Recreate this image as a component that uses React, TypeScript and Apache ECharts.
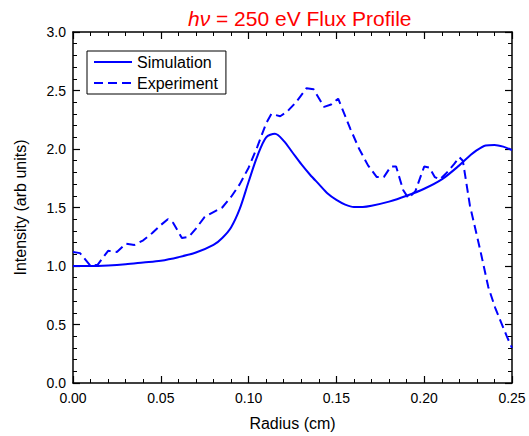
import React, { useEffect, useRef } from "react";
import * as echarts from "echarts";

const simX = [0, 0.01, 0.02, 0.03, 0.04, 0.05, 0.06, 0.07, 0.08, 0.085, 0.09, 0.095, 0.1, 0.105, 0.11, 0.115, 0.12, 0.125, 0.13, 0.135, 0.14, 0.145, 0.15, 0.155, 0.16, 0.165, 0.17, 0.18, 0.19, 0.2, 0.21, 0.22, 0.225, 0.23, 0.235, 0.24, 0.245, 0.25];
const simY = [1.0, 1.0, 1.005, 1.015, 1.03, 1.045, 1.075, 1.115, 1.18, 1.24, 1.33, 1.49, 1.72, 1.94, 2.10, 2.13, 2.07, 1.97, 1.87, 1.78, 1.70, 1.62, 1.565, 1.525, 1.505, 1.505, 1.515, 1.55, 1.60, 1.66, 1.74, 1.86, 1.93, 1.99, 2.03, 2.035, 2.02, 1.99];

const expX = [0, 0.004, 0.01, 0.014, 0.02, 0.025, 0.03, 0.035, 0.04, 0.045, 0.05, 0.054, 0.057, 0.062, 0.066, 0.07, 0.075, 0.08, 0.085, 0.09, 0.095, 0.1, 0.105, 0.11, 0.113, 0.118, 0.122, 0.127, 0.133, 0.137, 0.143, 0.147, 0.151, 0.158, 0.163, 0.168, 0.173, 0.177, 0.181, 0.184, 0.188, 0.191, 0.195, 0.2, 0.203, 0.206, 0.209, 0.213, 0.217, 0.22, 0.222, 0.226, 0.232, 0.2365, 0.2405, 0.2432, 0.247, 0.25];
const expY = [1.12, 1.11, 1.0, 1.01, 1.13, 1.12, 1.19, 1.18, 1.22, 1.28, 1.35, 1.40, 1.37, 1.24, 1.25, 1.32, 1.42, 1.46, 1.50, 1.59, 1.70, 1.84, 2.02, 2.22, 2.30, 2.28, 2.32, 2.40, 2.52, 2.51, 2.36, 2.38, 2.43, 2.17, 2.0, 1.86, 1.76, 1.76, 1.85, 1.85, 1.65, 1.58, 1.64, 1.85, 1.84, 1.76, 1.74, 1.80, 1.87, 1.93, 1.90, 1.52, 1.13, 0.82, 0.64, 0.54, 0.40, 0.30];

const seriesNames = ["Simulation", "Experiment"];
const titleText = "= 250 eV Flux Profile";
const xName = "Radius (cm)";
const yName = "Intensity (arb units)";

const FONT = "Arial, 'Liberation Sans', sans-serif";
const BLUE = "#0000ff";

export default function App() {
  const ref = useRef<HTMLDivElement>(null);
  useEffect(() => {
    if (!ref.current) return;
    const chart = echarts.init(ref.current, null, { renderer: "svg" });
    const axisCommon = {
      axisLine: { show: true, onZero: false, lineStyle: { color: "#000", width: 1.5 } },
      axisTick: { show: true, inside: true, length: 7, lineStyle: { color: "#000", width: 1.2 } },
      minorTick: { show: true, splitNumber: 5, length: 4, lineStyle: { color: "#000", width: 1 } },
      splitLine: { show: false },
    };
    chart.setOption({
      animation: false,
      backgroundColor: "#fff",
      title: {
        text: "{i|hν} " + titleText,
        left: 183,
        top: 3,
        textStyle: {
          color: "#ff0000",
          fontSize: 21,
          fontWeight: "normal",
          fontFamily: FONT,
          rich: {
            i: { color: "#ff0000", fontSize: 21, fontStyle: "italic", fontFamily: FONT },
          },
        },
      },
      legend: {
        orient: "vertical",
        left: 87,
        top: 51,
        data: seriesNames,
        borderColor: "#000",
        borderWidth: 1,
        borderRadius: 0,
        padding: [3, 8, 3, 6],
        itemWidth: 38,
        itemHeight: 2,
        itemGap: 5,
        itemStyle: { opacity: 0 },
        textStyle: { fontSize: 16, color: "#000", fontFamily: FONT },
        backgroundColor: "#fff",
      },
      grid: { left: 73, right: 17, top: 32, bottom: 49, containLabel: false },
      xAxis: [
        {
          ...axisCommon,
          type: "value",
          min: 0,
          max: 0.25,
          interval: 0.05,
          name: xName,
          nameLocation: "middle",
          nameGap: 32,
          nameTextStyle: { fontSize: 16, color: "#000", fontFamily: FONT },
          axisLabel: {
            margin: 8,
            fontSize: 14,
            color: "#000",
            fontFamily: FONT,
            formatter: (v: number) => v.toFixed(2),
          },
        },
        {
          ...axisCommon,
          type: "value",
          position: "top",
          min: 0,
          max: 0.25,
          interval: 0.05,
          axisLabel: { show: false },
        },
      ],
      yAxis: [
        {
          ...axisCommon,
          type: "value",
          min: 0,
          max: 3,
          interval: 0.5,
          name: yName,
          nameLocation: "middle",
          nameGap: 45,
          nameTextStyle: { fontSize: 16, color: "#000", fontFamily: FONT },
          axisLabel: {
            margin: 7,
            fontSize: 14,
            color: "#000",
            fontFamily: FONT,
            formatter: (v: number) => v.toFixed(1),
          },
        },
        {
          ...axisCommon,
          type: "value",
          position: "right",
          min: 0,
          max: 3,
          interval: 0.5,
          axisLabel: { show: false },
        },
      ],
      series: [
        {
          name: seriesNames[0],
          type: "line",
          xAxisIndex: 0,
          yAxisIndex: 0,
          data: simX.map((x, i) => [x, simY[i]]),
          smooth: 0.3,
          symbol: "none",
          lineStyle: { color: BLUE, width: 2 },
          itemStyle: { color: BLUE },
        },
        {
          name: seriesNames[1],
          type: "line",
          xAxisIndex: 0,
          yAxisIndex: 0,
          data: expX.map((x, i) => [x, expY[i]]),
          symbol: "none",
          lineStyle: { color: BLUE, width: 2, type: [9, 5] },
          itemStyle: { color: BLUE },
        },
      ],
    });
    return () => chart.dispose();
  }, []);
  return <div ref={ref} style={{ width: 529, height: 436, position: "absolute", left: 0, top: 0 }} />;
}
